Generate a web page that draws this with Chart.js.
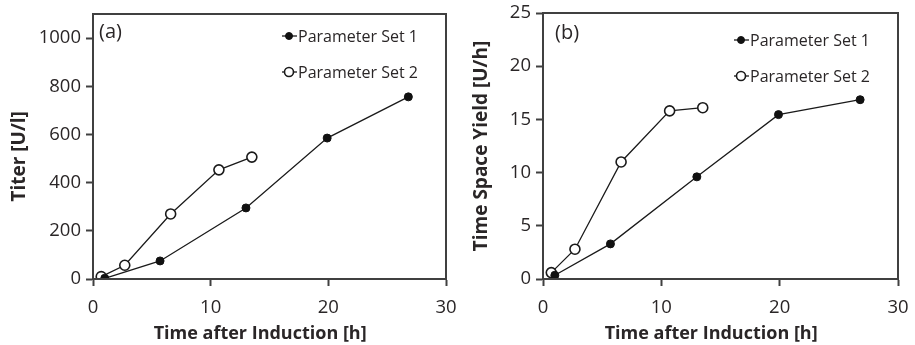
<!DOCTYPE html>
<html>
<head>
<meta charset="utf-8">
<script src="https://cdn.jsdelivr.net/npm/chart.js@4.4.1/dist/chart.umd.min.js"></script>
<style>
    html, body { margin: 0; padding: 0; background: #fff; }
    #wrap { position: relative; width: 915px; height: 345px; }
    .panel { position: absolute; top: 0; height: 345px; }
    #panel-a { left: 0; width: 460px; }
    #panel-b { left: 460px; width: 455px; }
</style>
</head>
<body>
<div id="wrap">
    <div class="panel" id="panel-a"><canvas id="titer-chart"></canvas></div>
    <div class="panel" id="panel-b"><canvas id="tsy-chart"></canvas></div>
</div>
<script>
// time after induction [h]
const timeSet1 = [1.0, 5.7, 13.0, 19.9, 26.8];
const timeSet2 = [0.7, 2.7, 6.6, 10.7, 13.5];

// titer [U/l]
const titerSet1 = [3, 75, 295, 585, 756];
const titerSet2 = [10, 57, 270, 453, 506];

// time space yield [U/h]
const tsySet1 = [0.35, 3.3, 9.6, 15.45, 16.85];
const tsySet2 = [0.6, 2.8, 11.0, 15.8, 16.1];

const seriesLabels = ['Parameter Set 1', 'Parameter Set 2'];
const timeTicks = [0, 10, 20, 30];
const titerTicks = [0, 200, 400, 600, 800, 1000];
const tsyTicks = [0, 5, 10, 15, 20, 25];

const FONT = "'Open Sans', 'DejaVu Sans', sans-serif";
const TEXT = '#2a2627';
const AXIS = '#404040';

function toPoints(xs, ys) {
    return xs.map((x, i) => ({ x: x, y: ys[i] }));
}

// box around the plot area
const framePlugin = {
    id: 'frame',
    afterDraw(chart) {
        const a = chart.chartArea;
        const ctx = chart.ctx;
        ctx.save();
        ctx.strokeStyle = AXIS;
        ctx.lineWidth = 2;
        ctx.strokeRect(a.left, a.top, a.right - a.left, a.bottom - a.top);
        ctx.restore();
    }
};

// legend drawn inside the plot + panel letter
const insideLegend = {
    id: 'insideLegend',
    afterDraw(chart, args, opts) {
        const a = chart.chartArea;
        const ctx = chart.ctx;
        ctx.save();
        ctx.textBaseline = 'middle';
        chart.data.datasets.forEach((ds, i) => {
            const cx = a.right - opts.fromRight;
            const cy = a.top + opts.rows[i];
            ctx.strokeStyle = ds.borderColor;
            ctx.lineWidth = 1.3;
            ctx.beginPath();
            ctx.moveTo(cx - 7, cy);
            ctx.lineTo(cx + 8, cy);
            ctx.stroke();
            ctx.beginPath();
            ctx.arc(cx, cy, ds.pointRadius - 0.5, 0, Math.PI * 2);
            ctx.fillStyle = ds.pointBackgroundColor;
            ctx.fill();
            ctx.lineWidth = ds.pointBorderWidth;
            ctx.strokeStyle = ds.pointBorderColor;
            ctx.stroke();
            ctx.font = '16px ' + FONT;
            ctx.fillStyle = TEXT;
            ctx.textAlign = 'left';
            ctx.fillText(ds.label, cx + 9, cy + 1);
        });
        ctx.font = '20px ' + FONT;
        ctx.fillStyle = TEXT;
        ctx.fillText(opts.letter, a.left + opts.letterX, a.top + opts.letterY);
        ctx.restore();
    }
};

function makeChart(canvasId, ys1, ys2, cfg) {
    const ctx = document.getElementById(canvasId).getContext('2d');
    return new Chart(ctx, {
        type: 'line',
        data: {
            datasets: [{
                label: seriesLabels[0],
                data: toPoints(timeSet1, ys1),
                borderColor: '#1a1a1a',
                borderWidth: 1.3,
                pointRadius: 4,
                pointBackgroundColor: '#111',
                pointBorderColor: '#111',
                pointBorderWidth: 1,
                fill: false,
            }, {
                label: seriesLabels[1],
                data: toPoints(timeSet2, ys2),
                borderColor: '#1a1a1a',
                borderWidth: 1.3,
                pointRadius: 5,
                pointBackgroundColor: '#fff',
                pointBorderColor: '#1a1a1a',
                pointBorderWidth: 1.6,
                fill: false,
            }]
        },
        options: {
            responsive: true,
            maintainAspectRatio: false,
            animation: false,
            layout: { padding: cfg.padding },
            plugins: {
                legend: { display: false },
                tooltip: { enabled: false },
                insideLegend: cfg.legend
            },
            scales: {
                x: {
                    type: 'linear',
                    min: 0,
                    max: 30,
                    afterFit: (s) => {
                        s.height = cfg.xHeight;
                        s.paddingLeft = 0;
                        s.paddingRight = 0;
                    },
                    afterBuildTicks: (s) => { s.ticks = timeTicks.map(v => ({ value: v })); },
                    grid: { drawOnChartArea: false, drawTicks: true, tickLength: 7, tickWidth: 2, tickColor: AXIS },
                    border: { display: true, color: AXIS, width: 2 },
                    ticks: { color: TEXT, font: { family: FONT, size: 18.5 }, padding: 11, maxRotation: 0,
                        callback: (v) => String(v) },
                    title: {
                        display: true,
                        // trailing spaces nudge the centred title left like the original
                        text: 'Time after Induction [h]    ',
                        color: TEXT,
                        font: { family: FONT, size: 18, weight: 'bold' },
                        padding: { top: 0, bottom: 0 }
                    }
                },
                y: {
                    min: 0,
                    max: cfg.yMax,
                    afterFit: (s) => {
                        s.width = cfg.yWidth;
                        s.paddingTop = 0;
                        s.paddingBottom = 0;
                    },
                    afterBuildTicks: (s) => { s.ticks = cfg.yTicks.map(v => ({ value: v })); },
                    grid: { drawOnChartArea: false, drawTicks: true, tickLength: 7, tickWidth: 2, tickColor: AXIS },
                    border: { display: true, color: AXIS, width: 2 },
                    ticks: { color: TEXT, font: { family: FONT, size: 18.5 }, padding: 5,
                        callback: (v) => String(v) },
                    title: {
                        display: true,
                        text: cfg.yTitle,
                        color: TEXT,
                        font: { family: FONT, size: 19, weight: 'bold' },
                        padding: { top: cfg.yTitlePad, bottom: 0 }
                    }
                }
            }
        },
        plugins: [framePlugin, insideLegend]
    });
}

makeChart('titer-chart', titerSet1, titerSet2, {
    padding: { left: 0, right: 14, top: 14, bottom: 0 },
    xHeight: 66,
    yWidth: 93,
    yMax: 1100,
    yTicks: titerTicks,
    yTitle: 'Titer [U/l]    ',
    yTitlePad: 8,
    legend: { fromRight: 157, rows: [22, 58], letter: '(a)', letterX: 6, letterY: 18 }
});

makeChart('tsy-chart', tsySet1, tsySet2, {
    padding: { left: 0, right: 17, top: 13, bottom: 0 },
    xHeight: 66,
    yWidth: 83,
    yMax: 25,
    yTicks: tsyTicks,
    yTitle: 'Time Space Yield [U/h]',
    yTitlePad: 10,
    legend: { fromRight: 157, rows: [27, 63], letter: '(b)', letterX: 12, letterY: 20 }
});
</script>
</body>
</html>
